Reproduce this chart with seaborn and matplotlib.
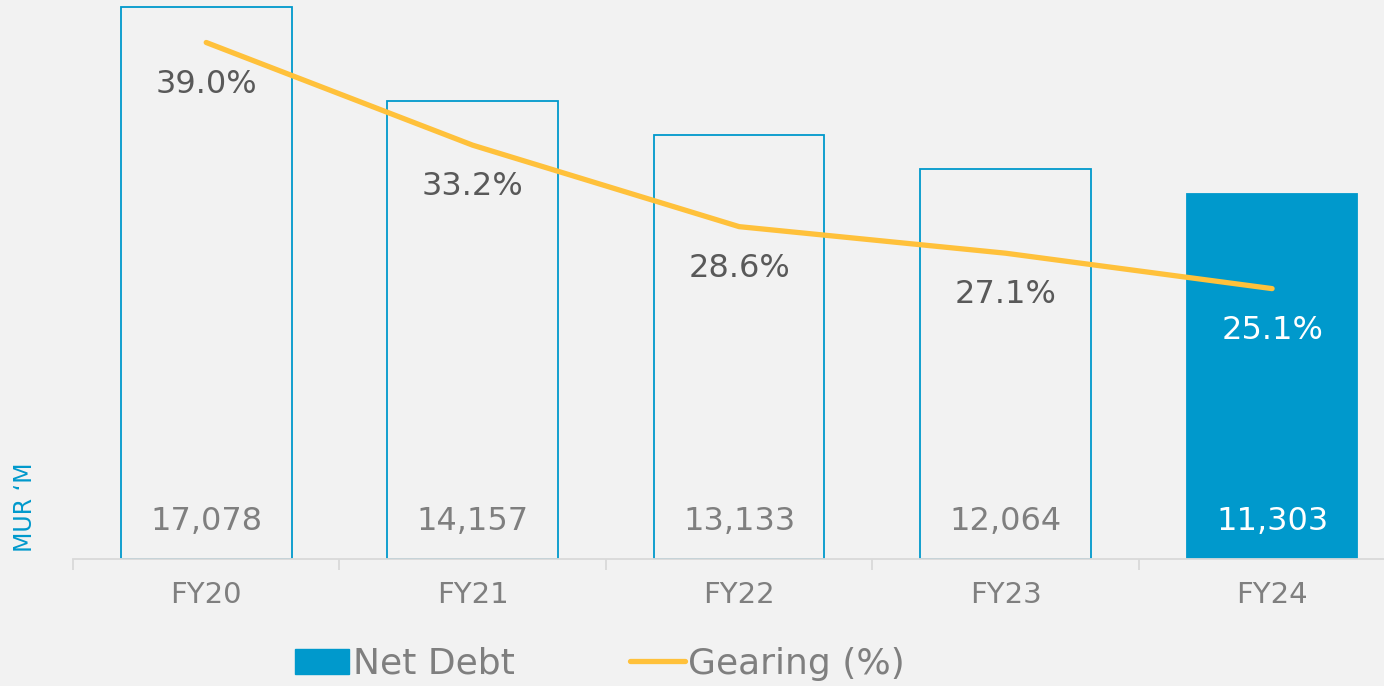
import numpy as np
import matplotlib.pyplot as plt
import seaborn as sns
from matplotlib.patches import Patch
from matplotlib.lines import Line2D

years = ["FY20", "FY21", "FY22", "FY23", "FY24"]
net_debt = [17078, 14157, 13133, 12064, 11303]
gearing = [39.0, 33.2, 28.6, 27.1, 25.1]

BLUE = "#0099CC"
GOLD = "#FFC13B"
BG = "#F2F2F2"

sns.set_style("white")
plt.rcParams["font.family"] = ["DejaVu Sans"]

fig = plt.figure(figsize=(13.84, 6.86), dpi=100, facecolor=BG)
ax = fig.add_axes([73 / 1384, 127 / 686, 1311 / 1384, 559 / 686])
ax.set_facecolor(BG)

# bars: outlined for history, filled for the latest year
sns.barplot(x=years, y=net_debt, ax=ax, width=0.64, color=BG, saturation=1)
for i, p in enumerate(ax.patches):
    p.set_edgecolor(BLUE)
    p.set_linewidth(1.3)
    p.set_facecolor(BLUE if i == len(years) - 1 else BG)

ax.set_xlim(-0.5, 4.42)
ax.set_ylim(0, 17296)
ax.set_yticks([])
for s in ["top", "right", "left"]:
    ax.spines[s].set_visible(False)
ax.spines["bottom"].set_color("#D9D9D9")
ax.spines["bottom"].set_linewidth(1.3)
ax.set_xticks(range(len(years)), minor=False)
ax.set_xticks(np.arange(len(years)) - 0.5, minor=True)
ax.tick_params(axis="x", which="major", bottom=False, pad=12, labelsize=21, labelcolor="#7F7F7F")
ax.tick_params(axis="x", which="minor", bottom=True, length=8, color="#D9D9D9", width=1.3)
ax.set_xlabel("")

for i, v in enumerate(net_debt):
    c = "white" if i == len(years) - 1 else "#7F7F7F"
    ax.annotate(f"{v:,}", (i, 0), xytext=(0, 27), textcoords="offset points",
                ha="center", va="center", fontsize=23, color=c)

ax.text(-0.0366, 0.012, "MUR \u2018M", transform=ax.transAxes, rotation=90,
        ha="center", va="bottom", fontsize=17, color=BLUE)

# gearing line on secondary axis
ax2 = ax.twinx()
sns.lineplot(x=np.arange(len(years)), y=gearing, ax=ax2, color=GOLD,
             linewidth=3.8, solid_capstyle="round", sort=False)
ax2.set_ylim(9.83, 41.4)
ax2.set_yticks([])
for s in ax2.spines.values():
    s.set_visible(False)

for i, g in enumerate(gearing):
    c = "white" if i == len(years) - 1 else "#595959"
    ax2.annotate(f"{g:.1f}%", (i, g), xytext=(0, -30), textcoords="offset points",
                 ha="center", va="center", fontsize=23, color=c)

handles = [Patch(facecolor=BLUE, edgecolor=BLUE),
           Line2D([0], [0], color=GOLD, linewidth=3.8, solid_capstyle="round")]
fig.legend(handles, ["Net Debt", "Gearing (%)"], loc="center", bbox_to_anchor=(600 / 1384, 1 - 664 / 686),
           ncol=2, frameon=False, fontsize=26, labelcolor="#7F7F7F",
           handlelength=1.5, handleheight=0.7, handletextpad=0.1, columnspacing=3.2)

fig.savefig("out.png", dpi=100, facecolor=BG)
